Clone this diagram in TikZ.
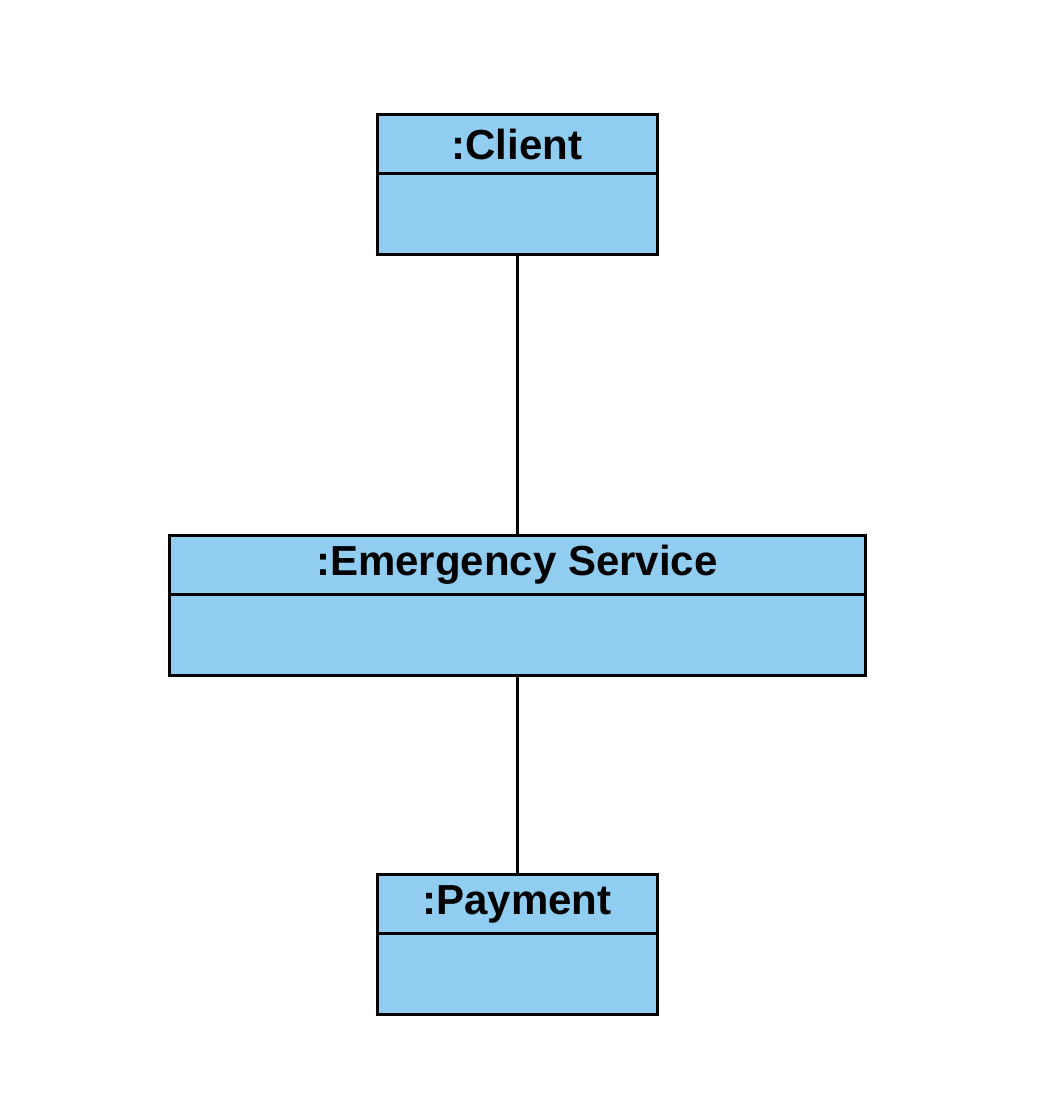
\documentclass[tikz,border=0pt]{standalone}
\usepackage{fontspec}
\setsansfont{Liberation Sans}
\usetikzlibrary{positioning}
\definecolor{objblue}{RGB}{144,205,240}
\tikzset{objhead/.style = {draw, line width=1.5pt, fill=objblue, minimum height=29.5pt, inner sep=0pt, font=\sffamily\bfseries\fontsize{21}{24}\selectfont},
         objbody/.style = {draw, line width=1.5pt, fill=objblue, minimum height=40.5pt, inner sep=0pt},
         link/.style = {line width=1.5pt}}

\begin{document}
\begin{tikzpicture}[x=0.5pt, y=-0.5pt, node distance=-1.5pt]
    \useasboundingbox (0,0) rectangle (1058,1096);
    \node[objhead, minimum width=140pt] (client) at (517,144.5) {:Client};
    \node[objbody, minimum width=140pt, below=of client] (clientbody) {};
    \node[objhead, minimum width=348pt] (service) at (517,564.5) {:Emergency Service};
    \node[objbody, minimum width=348pt, below=of service] (servicebody) {};
    \node[objhead, minimum width=140pt] (payment) at (517,904) {:Payment};
    \node[objbody, minimum width=140pt, below=of payment] (paymentbody) {};
    \draw[link] (clientbody) -- (service)
                (servicebody) -- (payment);
\end{tikzpicture}
\end{document}
